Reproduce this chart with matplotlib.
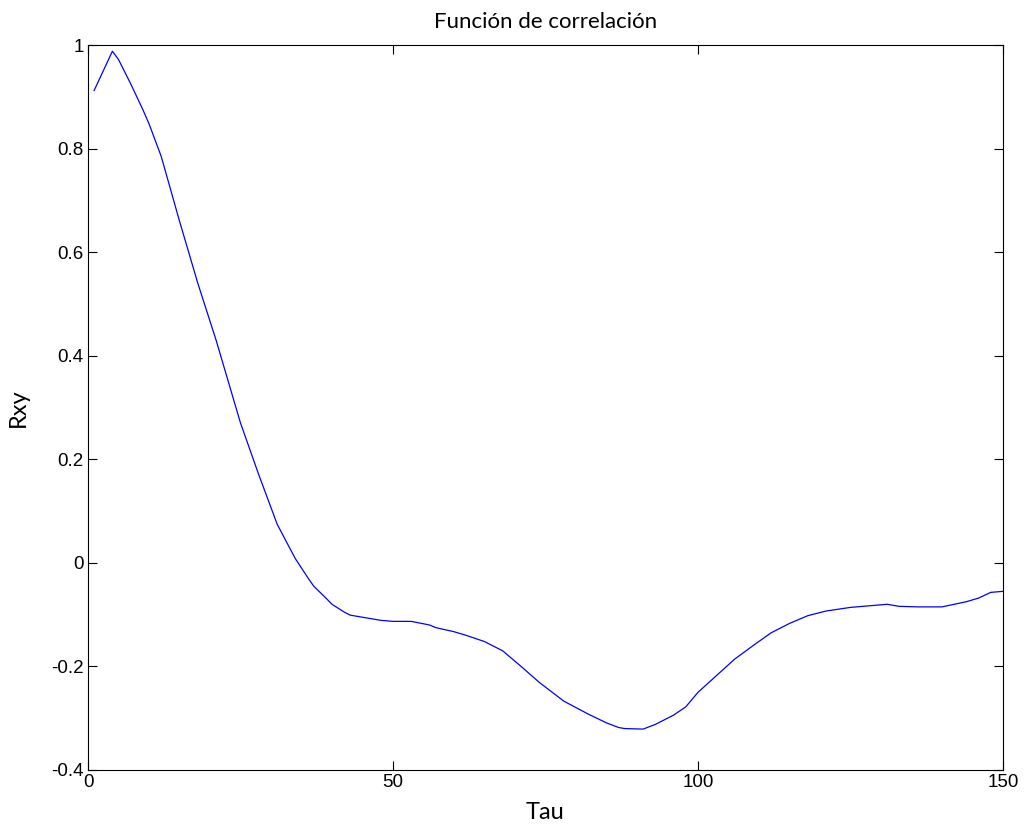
import matplotlib
matplotlib.use('Agg')
import matplotlib.pyplot as plt

plt.rcParams['font.family'] = 'Liberation Sans'

# cross-correlation values read at selected lags
tau = [1, 4, 5, 7, 9, 10, 12, 15, 18, 21, 25, 28, 31, 33, 34, 36, 37, 39,
       40, 42, 43, 46, 48, 50, 53, 56, 57, 60, 62, 65, 68, 71, 74, 78, 82,
       85, 87, 88, 91, 93, 96, 98, 100, 103, 106, 109, 112, 115, 118, 121,
       125, 128, 131, 133, 136, 140, 142, 144, 146, 148, 150]
rxy = [0.912, 0.988, 0.972, 0.925, 0.875, 0.848, 0.785, 0.66, 0.54, 0.43,
       0.27, 0.17, 0.075, 0.03, 0.008, -0.028, -0.045, -0.068, -0.08,
       -0.095, -0.101, -0.107, -0.111, -0.113, -0.113, -0.12, -0.125,
       -0.133, -0.14, -0.152, -0.17, -0.2, -0.231, -0.267, -0.292, -0.309,
       -0.318, -0.32, -0.321, -0.312, -0.294, -0.278, -0.25, -0.218,
       -0.186, -0.16, -0.135, -0.117, -0.102, -0.093, -0.086, -0.083,
       -0.08, -0.084, -0.085, -0.085, -0.08, -0.075, -0.068, -0.057,
       -0.055]

xticks = [0, 50, 100, 150]
yticks = [-0.4, -0.2, 0, 0.2, 0.4, 0.6, 0.8, 1]
yticklabels = ['-0.4', '-0.2', '0', '0.2', '0.4', '0.6', '0.8', '1']

fig = plt.figure(figsize=(10.26, 8.34), dpi=100)
ax = fig.add_axes([88 / 1026, 1 - 770 / 834, 915 / 1026, 725 / 834])

ax.plot(tau, rxy, color='#0000ff', linewidth=0.9)

ax.set_xlim(0, 150)
ax.set_ylim(-0.4, 1)
ax.set_xticks(xticks)
ax.set_yticks(yticks)
ax.set_yticklabels(yticklabels)
ax.tick_params(direction='in', length=6.5, width=0.8, top=True, right=True,
               labelsize=13.5, pad=3)
for sp in ax.spines.values():
    sp.set_linewidth(0.8)

ax.set_title('Función de correlación', family='Lato', fontsize=16, pad=12)
ax.set_xlabel('Tau', family='Lato', fontsize=17, labelpad=8)
ax.set_ylabel('Rxy', family='Lato', fontsize=17, labelpad=16)

fig.savefig('out.png', dpi=100)
